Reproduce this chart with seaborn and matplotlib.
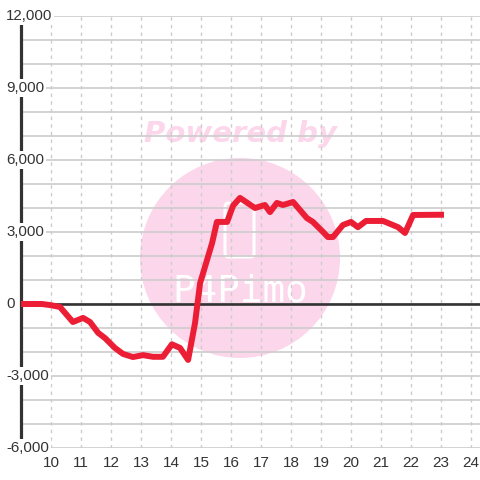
import matplotlib
matplotlib.use("Agg")
import matplotlib.pyplot as plt
import matplotlib.patches as mpatches
import matplotlib.transforms as mtransforms
import seaborn as sns
import pandas as pd

# ---- data ----
hours = [9.0, 9.7, 10.0, 10.3, 10.73, 11.07, 11.3, 11.57, 11.8, 12.13, 12.4, 12.73,
         13.07, 13.4, 13.73, 14.03, 14.3, 14.57, 14.8, 14.97, 15.2, 15.37, 15.53,
         15.87, 16.07, 16.3, 16.8, 17.13, 17.3, 17.53, 17.73, 18.07, 18.53, 18.73,
         19.07, 19.23, 19.4, 19.73, 20.0, 20.23, 20.5, 21.07, 21.57, 21.8, 22.07, 23.1]
values = [0, 0, -50, -125, -750, -580, -750, -1200, -1420, -1830, -2080, -2210,
          -2130, -2200, -2200, -1680, -1830, -2330, -800, 870, 1830, 2540, 3420,
          3420, 4100, 4420, 4000, 4125, 3830, 4210, 4125, 4250, 3580, 3420,
          3000, 2790, 2790, 3290, 3420, 3200, 3460, 3460, 3200, 2960, 3710, 3720]
x_ticks = list(range(10, 25))
y_label_ticks = [12000, 9000, 6000, 3000, 0, -3000, -6000]
y_label_text = ["12,000", "9,000", "6,000", "3,000", "0", "-3,000", "-6,000"]
y_grid = list(range(-6000, 12001, 1000))

df = pd.DataFrame({"hour": hours, "value": values})

sns.set_style("white")
plt.rcParams["font.family"] = ["Liberation Sans", "DejaVu Sans"]

W = H = 480
fig = plt.figure(figsize=(4.8, 4.8), dpi=100)
fig.patch.set_facecolor("white")
ax = fig.add_axes([21 / W, 32 / H, 459 / W, 432 / H])
ax.patch.set_alpha(0)

def fx(px):
    return px / W

def fy(py):
    return 1 - py / H

# watermark (behind grid)
ax.add_patch(mpatches.Circle((fx(240), fy(258)), 100 / W, transform=fig.transFigure,
                             facecolor="#fcd6ea", edgecolor="none", zorder=0.1))
ax.add_patch(mpatches.FancyBboxPatch((fx(225), fy(257)), 29 / W, 54 / H,
                                     boxstyle="round,pad=0,rounding_size=0.008",
                                     transform=fig.transFigure, facecolor="none",
                                     edgecolor="white", linewidth=2.2, zorder=0.2))
ax.text(fx(240), fy(291), "P4Pimo", transform=fig.transFigure, ha="center", va="center",
        fontsize=27, color="white", family="DejaVu Sans Mono", zorder=0.2)
ax.text(fx(241), fy(134), "Powered by", transform=fig.transFigure, ha="center", va="center",
        fontsize=21, color="#fcd6ea", fontweight="bold", fontstyle="italic",
        family="DejaVu Sans", zorder=0.2)

ax.set_xlim(9.0, 24.3)
ax.set_ylim(-6000, 12000)
ax.set_axisbelow(True)

ax.set_yticks(y_grid)
ax.set_yticklabels([])
ax.set_xticks(x_ticks)
ax.set_xticklabels([str(t) for t in x_ticks])
ax.tick_params(axis="both", length=0)
ax.tick_params(axis="x", pad=6, labelsize=11, labelcolor="#333333")
ax.grid(axis="y", color="#cccccc", linewidth=1.2, linestyle="-")
ax.grid(axis="x", color="#cccccc", linewidth=1.0, linestyle=(0, (2.5, 3)))

for s in ["top", "right", "bottom"]:
    ax.spines[s].set_visible(False)
ax.spines["left"].set_color("#333333")
ax.spines["left"].set_linewidth(2.3)
ax.spines["left"].set_zorder(1.8)

ax.axhline(0, color="#333333", linewidth=1.9, zorder=1.9)

sns.lineplot(data=df, x="hour", y="value", ax=ax, color="#ec1e35", linewidth=4.3,
             zorder=3, solid_joinstyle="round", solid_capstyle="butt")
ax.set_xlabel("")
ax.set_ylabel("")

trans = mtransforms.blended_transform_factory(ax.transAxes, ax.transData)
for v, t in zip(y_label_ticks, y_label_text):
    ax.text((6 - 21) / 459, v, t, transform=trans, ha="left", va="center",
            fontsize=10.8, color="#333333", clip_on=False, zorder=5,
            bbox=dict(facecolor="white", edgecolor="none", pad=1.5))

fig.savefig("out.png", dpi=100)
